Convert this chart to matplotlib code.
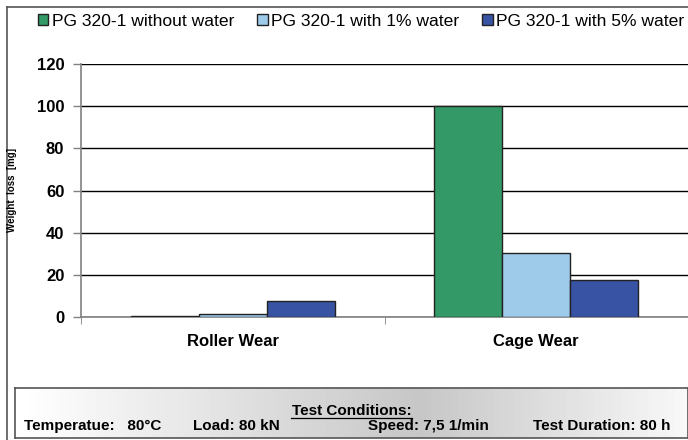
import numpy as np
import matplotlib.pyplot as plt
from matplotlib import font_manager

plt.rcParams['font.family'] = ['Liberation Sans', 'DejaVu Sans']

categories = ['Roller Wear', 'Cage Wear']
series_names = ['PG 320-1 without water', 'PG 320-1 with 1% water', 'PG 320-1 with 5% water']
without_water = [0.3, 100.0]
water_1 = [1.2, 30.5]
water_5 = [7.4, 17.5]
yticks = [0, 20, 40, 60, 80, 100, 120]
conditions = ['Temperatue:   80°C', 'Load: 80 kN', 'Speed: 7,5 1/min', 'Test Duration: 80 h']

colors = ['#339966', '#9fcbeb', '#3953a4']

names = {f.name for f in font_manager.fontManager.ttflist}
narrow = ['Liberation Sans Narrow', 'Liberation Sans'] if 'Liberation Sans Narrow' in names else ['Liberation Sans']

fig = plt.figure(figsize=(6.88, 4.40), dpi=100)
ax = fig.add_axes([81/688, 1-317/440, 1-81/688, (317-64)/440])

x = np.arange(len(categories))
w = 0.224
for i, (vals, c, name) in enumerate(zip([without_water, water_1, water_5], colors, series_names)):
    ax.bar(x + (i-1)*w, vals, w, color=c, edgecolor='#222222', linewidth=1.0,
           label=name, zorder=3)

ax.set_ylim(0, 120)
ax.set_xlim(-0.5, 1.5)
ax.set_yticks(yticks)
ax.set_yticklabels([str(t) for t in yticks], fontsize=12, fontweight='bold')
ax.yaxis.grid(True, color='black', linewidth=1.0, zorder=0)
ax.set_xticks(x)
ax.set_xticklabels(categories, fontsize=12, fontweight='bold')
ax.tick_params(axis='x', length=0, pad=12)
ax.tick_params(axis='y', length=6, width=1, color='#808080', pad=6)
ax.set_xticks([-0.5, 0.5, 1.5], minor=True)
ax.tick_params(axis='x', which='minor', length=5, color='#808080')
for s in ['top', 'right']:
    ax.spines[s].set_visible(False)
ax.spines['left'].set_color('#808080')
ax.spines['bottom'].set_color('#808080')
ax.spines['left'].set_linewidth(1.2)
ax.spines['bottom'].set_linewidth(1.2)

fig.text(12/688, 1-190/440, 'Weight  loss  [mg]', rotation=90, fontsize=7,
         fontweight='bold', ha='center', va='center')

# outer chart border
fig.add_artist(plt.Line2D([7/688, 7/688], [0, 1-7/440], color='#555555', lw=1.2))
fig.add_artist(plt.Line2D([7/688, 1], [1-7/440, 1-7/440], color='#555555', lw=1.2))

fig.legend(loc='center', bbox_to_anchor=(0.525, 1-21/440), ncol=3, frameon=False,
           fontsize=12.6, handlelength=0.6, handleheight=0.6, handletextpad=0.2,
           columnspacing=1.3, borderaxespad=0, borderpad=0)

# test conditions box with gradient
bx = fig.add_axes([15/688, 1-438/440, 1-15/688, 50/440])
grad = np.concatenate([np.linspace(1.0, 0.78, 60), np.linspace(0.78, 0.97, 40)])
bx.imshow(grad[np.newaxis, :], aspect='auto', cmap='gray', vmin=0, vmax=1,
          extent=[0, 1, 0, 1])
bx.set_xlim(0, 1)
bx.set_ylim(0, 1)
bx.set_xticks([])
bx.set_yticks([])
for s in bx.spines.values():
    s.set_color('#555555')
    s.set_linewidth(1.2)
bx.text(0.5, 0.55, 'Test Conditions:', ha='center', va='center', fontsize=11,
        fontweight='bold', family=narrow, transform=bx.transAxes)
bx.plot([0.41, 0.59], [0.40, 0.40], color='black', lw=0.9, transform=bx.transAxes)
cx = [0.0135, 0.265, 0.525, 0.77]
for t, xx in zip(conditions, cx):
    bx.text(xx, 0.24, t, ha='left', va='center', fontsize=11, fontweight='bold',
            family=narrow, transform=bx.transAxes)

fig.savefig('out.png', dpi=100)
